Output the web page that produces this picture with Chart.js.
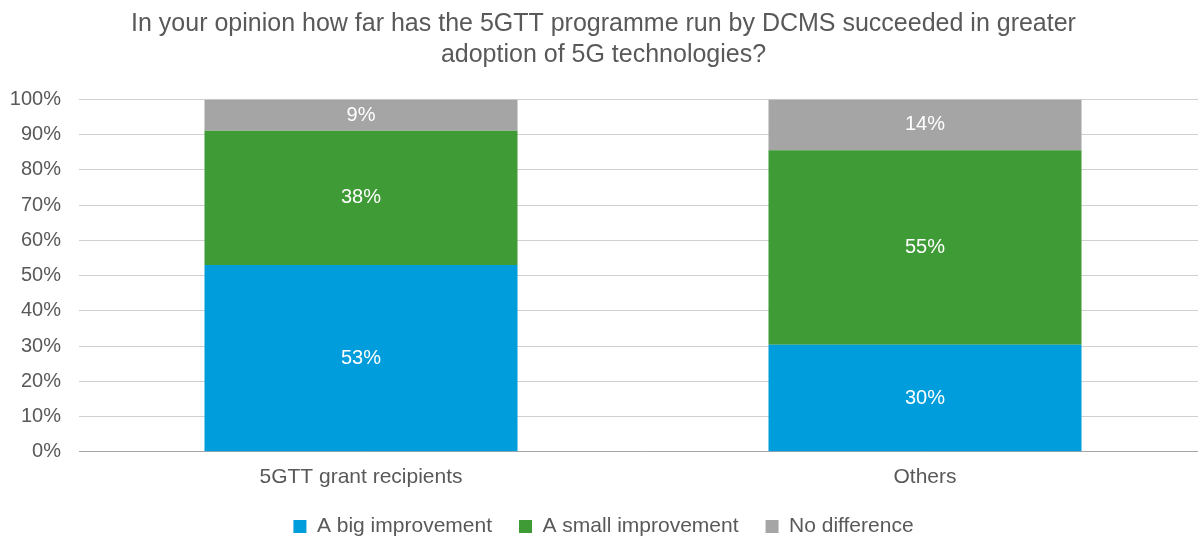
<!DOCTYPE html>
<html>
<head>
<meta charset="utf-8">
<script src="https://cdn.jsdelivr.net/npm/chart.js@4"></script>
<style>
  html, body { margin: 0; padding: 0; background: #fff; overflow: hidden; }
  #wrap { width: 1224px; height: 540px; position: relative; }
</style>
</head>
<body>
<div id="wrap"><canvas id="chart"></canvas></div>
<script>
  var CATEGORIES = ['5GTT grant recipients', 'Others'];
  var SERIES_NAMES = ['A big improvement', 'A small improvement', 'No difference'];
  var BIG_IMPROVEMENT = [53.0, 30.4];
  var SMALL_IMPROVEMENT = [38.1, 55.2];
  var NO_DIFFERENCE = [8.9, 14.4];
  var COLORS = ['#009DDC', '#3E9B35', '#A5A5A5'];
  var TITLE_LINES = ['In your opinion how far has the 5GTT programme run by DCMS succeeded in greater', 'adoption of 5G technologies?'];

  var FONT = "'Liberation Sans', Arial, sans-serif";
  var GREY_TEXT = '#595959';

  var barLabels = {
    id: 'barLabels',
    afterDatasetsDraw: function (chart) {
      var ctx = chart.ctx;
      ctx.save();
      ctx.font = '20px ' + FONT;
      ctx.fillStyle = '#ffffff';
      ctx.textAlign = 'center';
      ctx.textBaseline = 'middle';
      chart.data.datasets.forEach(function (ds, i) {
        var meta = chart.getDatasetMeta(i);
        meta.data.forEach(function (bar, j) {
          var v = ds.data[j];
          ctx.fillText(Math.round(v) + '%', bar.x, (bar.y + bar.base) / 2);
        });
      });
      ctx.restore();
    }
  };

  new Chart(document.getElementById('chart'), {
    type: 'bar',
    data: {
      labels: CATEGORIES,
      datasets: [
        { label: SERIES_NAMES[0], data: BIG_IMPROVEMENT, backgroundColor: COLORS[0] },
        { label: SERIES_NAMES[1], data: SMALL_IMPROVEMENT, backgroundColor: COLORS[1] },
        { label: SERIES_NAMES[2], data: NO_DIFFERENCE, backgroundColor: COLORS[2] }
      ]
    },
    options: {
      responsive: true,
      maintainAspectRatio: false,
      animation: false,
      layout: { padding: { left: 0, right: 17, top: 0, bottom: -7 } },
      datasets: { bar: { barPercentage: 1, categoryPercentage: 0.555, borderWidth: 0 } },
      plugins: {
        title: {
          display: true,
          text: TITLE_LINES,
          color: GREY_TEXT,
          font: { family: FONT, size: 25, weight: 'normal', lineHeight: 1.25 },
          padding: { top: 8, bottom: 29 }
        },
        legend: {
          position: 'bottom',
          labels: {
            color: GREY_TEXT,
            font: { family: FONT, size: 21 },
            boxWidth: 13,
            boxHeight: 13,
            padding: 27
          }
        },
        tooltip: { enabled: false }
      },
      scales: {
        x: {
          stacked: true,
          grid: { display: false },
          border: { display: true, color: '#A6A6A6', width: 1 },
          afterFit: function (scale) { scale.height -= 6; },
          ticks: { color: GREY_TEXT, font: { family: FONT, size: 21 }, padding: 5 }
        },
        y: {
          stacked: true,
          min: 0,
          max: 100,
          border: { display: false },
          grid: { color: '#D0D0D0', drawTicks: false },
          afterFit: function (scale) { scale.width = 79; },
          ticks: {
            stepSize: 10,
            color: GREY_TEXT,
            font: { family: FONT, size: 20 },
            padding: 18,
            callback: function (v) { return v + '%'; }
          }
        }
      }
    },
    plugins: [barLabels]
  });
</script>
</body>
</html>
